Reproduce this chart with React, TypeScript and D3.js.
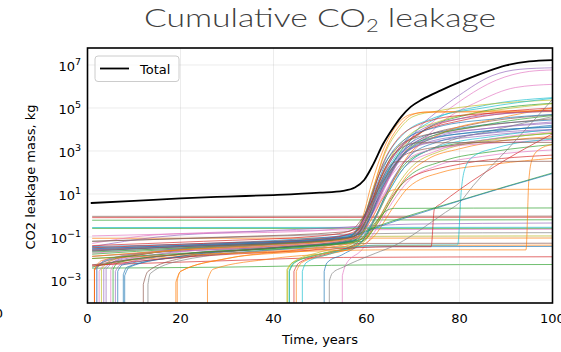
import React from "react";
import * as d3 from "d3";

// ---------- DATA (time in years, value as log10 of kg) ----------
const xTicks = [0, 20, 40, 60, 80, 100];
const yTickExps = [-3, -1, 1, 3, 5, 7];

const totalSeries: number[][] = [
  [0.7, 0.58], [10, 0.68], [20, 0.8], [30, 0.88], [40, 0.95], [50, 1.06], [55, 1.15],
  [57.5, 1.3], [59.5, 1.65], [61.5, 2.4], [63.5, 3.3], [65.5, 4.0], [67.5, 4.6],
  [69.5, 5.05], [72, 5.4], [76, 5.82], [80, 6.2], [85, 6.62], [90, 6.98], [95, 7.17], [100, 7.23],
];

const flatSeries: number[][][] = [
  [[1, -0.04], [100, -0.03]],
  [[1, -0.1], [100, -0.08]],
  [[1, -0.22], [100, -0.2]],
  [[1, -0.56], [100, -0.55]],
  [[1, -0.6], [100, -0.6]],
  [[1, -1.06], [100, -1.05]],
  [[1, -2.3], [30, -2.1], [55, -1.95], [100, -1.92]],
  [[1, -2.45], [30, -2.4], [60, -2.3], [100, -2.28]],
  [[1, -1.9], [20, -1.65], [45, -1.45], [60, -1.3], [100, -1.29]],
  [[1, -1.6], [20, -1.4], [45, -1.15], [60, -0.97], [100, -0.95]],
  [[1, -1.3], [12, -0.95], [25, -0.8], [45, -0.7], [60, -0.66], [100, -0.64]],
  [[1, -1.2], [25, -1.05], [50, -0.9], [70, -0.82], [100, -0.8]],
  [[6.5, -2.6], [7.5, -2.3], [25, -1.85], [50, -1.5], [65, -1.45], [100, -1.44]],
  [[1, -1.45], [15, -1.0], [35, -0.75], [55, -0.55], [70, -0.4], [100, -0.35]],
  [[1.5, -2.55], [3, -2.3], [20, -1.9], [45, -1.6], [60, -1.4], [100, -1.38]],
];
const flatColors = ["brown", "red", "green", "cyan", "green", "orange", "red", "green", "brown", "olive", "pink", "gray", "blue", "purple", "orange"];

const specialSeries: number[][][] = [
  [[46.2, -2.6], [47, -2.2], [52, -1.8], [57, -1.5], [62, -1.38], [79.6, -1.37], [80.4, 1.2], [81.2, 2.2], [83, 2.75], [88, 3.15], [100, 3.55]],
  [[1, -2.35], [20, -1.95], [45, -1.65], [58, -1.5], [66, -1.45], [73.9, -1.45], [74.6, 0.3], [76, 0.55], [80, 1.2], [90, 2.6], [100, 3.8]],
  [[1, -2.0], [25, -1.8], [50, -1.65], [62, -1.6], [94.3, -1.6], [94.9, 1.6], [95.6, 2.6], [97, 3.05], [100, 3.3]],
  [[52, -3.05], [52.6, -2.7], [55, -2.4], [58, -2.1], [62, -1.75], [66, -1.4], [70, -0.9], [74, -0.3], [77, 0.15], [80, 0.6], [83, 1.4], [90, 3.0], [100, 5.4]],
  [[1, -1.7], [30, -1.4], [55, -1.1], [60, -0.7], [63, -0.45], [70, 0.05], [80, 0.7], [90, 1.35], [100, 1.98]],
  [[1, -1.65], [30, -1.35], [55, -1.05], [60, -0.75], [63, -0.5], [70, 0.0], [80, 0.68], [90, 1.33], [100, 1.95]],
  [[1, -1.9], [20, -1.6], [45, -1.35], [58, -1.0], [61, -0.2], [63.5, 0.8], [66, 1.2], [100, 1.22]],
  [[1, -2.0], [25, -1.7], [50, -1.4], [59, -1.1], [62, -0.3], [64.5, 0.25], [66, 0.33], [100, 0.35]],
  [[1, -2.3], [15, -1.9], [40, -1.5], [57, -1.1], [60, -0.1], [62.5, 1.4], [65, 2.6], [68, 3.2], [71, 3.38], [100, 3.4]],
  [[1, -1.65], [20, -1.45], [40, -1.3], [57, -1.0], [60.5, 0], [63, 1.5], [65, 2.3], [66.5, 2.5], [100, 2.52]],
];
const specialColors = ["cyan", "red", "orange", "gray", "green", "blue", "orange", "green", "brown", "brown"];

const risingSeries: number[][][] = [
  [[4, -2.5], [6, -2.1], [15, -1.7], [35, -1.35], [55, -1.0], [59, -0.5], [62, 0.6], [65, 2.0], [68, 3.0], [71, 4.0], [75, 4.8], [80, 5.6], [87, 6.5], [93, 6.8], [100, 6.87]],
  [[2.5, -2.6], [4, -2.2], [12, -1.8], [30, -1.4], [55, -1.05], [59.5, -0.5], [62.5, 0.6], [65.5, 2.0], [69, 3.2], [73.5, 4.2], [80, 5.3], [88, 6.3], [95, 6.7], [100, 6.77]],
  [[1, -1.75], [20, -1.5], [40, -1.3], [57, -1.0], [60.5, -0.2], [63.5, 0.9], [66.5, 2.0], [71, 3.2], [76, 4.3], [84, 5.3], [92, 5.95], [100, 6.1]],
  [[1, -1.5], [20, -1.4], [40, -1.25], [57, -0.9], [60, 0], [62.5, 1.3], [65.5, 2.5], [69, 3.6], [74, 4.4], [85, 5.1], [100, 5.48]],
  [[3, -2.5], [5, -2.1], [15, -1.7], [35, -1.4], [55, -1.1], [59, -0.3], [61.5, 1.3], [64, 2.9], [67, 4.0], [70, 4.6], [75, 4.85], [85, 5.15], [100, 5.37]],
  [[19, -3.1], [20, -2.6], [30, -2.0], [45, -1.6], [56, -1.2], [59, -0.4], [61.5, 1.3], [64, 3.0], [67, 4.15], [70, 4.7], [73, 4.82], [100, 4.88]],
  [[1, -1.8], [20, -1.55], [40, -1.35], [57, -1.0], [60.5, 0], [63.5, 1.5], [67, 2.9], [72, 3.9], [82, 4.7], [100, 5.22]],
  [[12, -3.2], [13, -2.6], [20, -2.0], [35, -1.6], [57, -1.2], [60.5, -0.2], [63.5, 1.2], [67, 2.6], [72, 3.6], [82, 4.2], [100, 4.68]],
  [[1.5, -2.5], [3, -2.2], [12, -1.8], [35, -1.4], [56, -1.05], [60, 0.1], [63, 1.7], [66, 2.8], [70.5, 3.7], [80, 4.4], [100, 4.91]],
  [[8, -2.8], [9, -2.4], [20, -1.9], [40, -1.5], [57, -1.2], [60, -0.2], [62.5, 1.2], [65.5, 2.4], [69, 3.3], [76, 3.9], [100, 4.44]],
  [[1, -1.55], [25, -1.35], [45, -1.15], [58, -0.8], [61.5, 0.5], [64.5, 1.9], [68, 3.0], [74, 3.7], [86, 4.05], [100, 4.29]],
  [[1, -1.45], [25, -1.3], [45, -1.1], [58, -0.85], [61, 0.3], [63.5, 1.6], [67, 2.8], [72, 3.5], [85, 3.9], [100, 4.13]],
  [[6, -2.6], [7, -2.3], [20, -1.8], [40, -1.45], [57, -1.15], [60.5, -0.2], [63.5, 1.3], [67, 2.6], [72, 3.3], [85, 3.7], [100, 3.98]],
  [[43.4, -2.6], [44.5, -2.2], [50, -1.8], [57, -1.4], [61, -0.5], [64, 0.9], [67.5, 2.2], [73, 3.0], [85, 3.5], [100, 3.82]],
  [[44.9, -2.6], [46, -2.2], [52, -1.8], [58, -1.4], [62, -0.5], [65, 0.6], [68.5, 1.8], [73, 2.6], [80, 3.1], [100, 3.67]],
  [[54.8, -2.8], [55.5, -2.3], [59, -1.6], [62.5, -0.5], [65.5, 0.6], [69, 1.6], [75, 2.3], [85, 2.75], [100, 3.05]],
  [[44.4, -2.6], [45.5, -2.2], [52, -1.75], [59, -1.2], [62.5, -0.2], [65.5, 0.9], [69, 1.7], [78, 2.3], [100, 2.81]],
  [[25.8, -3.0], [27, -2.5], [40, -2.0], [56, -1.6], [61.5, -1.0], [65.5, 0.3], [69, 1.3], [76, 2.0], [88, 2.4], [100, 2.66]],
  [[2, -2.4], [4, -2.1], [15, -1.7], [40, -1.35], [56, -1.0], [59.5, 0], [62, 1.5], [64.5, 2.8], [68, 3.8], [74, 4.5], [85, 5.0], [100, 5.45]],
  [[43, -2.55], [44, -2.2], [50, -1.7], [57, -1.3], [60, -0.2], [62.5, 1.4], [65.5, 2.8], [69, 3.7], [76, 4.4], [88, 4.9], [100, 5.2]],
  [[1, -1.5], [25, -1.3], [50, -1.1], [58, -0.7], [61, 0.6], [63.5, 2.0], [66.5, 3.0], [71, 3.8], [80, 4.5], [100, 5.0]],
  [[50.9, -2.6], [51.5, -2.2], [55, -1.8], [59, -1.2], [62.5, 0.2], [65.5, 1.6], [69, 2.7], [75, 3.4], [88, 3.9], [100, 4.2]],
  [[3.5, -2.5], [5, -2.2], [15, -1.8], [40, -1.4], [58, -1.0], [61.5, 0.2], [64.5, 1.6], [68, 2.8], [74, 3.6], [88, 4.1], [100, 4.35]],
  [[1, -1.6], [30, -1.35], [56, -1.05], [60, 0.2], [62.5, 1.8], [65.5, 2.9], [69, 3.5], [80, 4.0], [100, 4.5]],
  [[5, -2.55], [6, -2.2], [18, -1.75], [40, -1.4], [58, -1.05], [61.5, 0], [64.5, 1.2], [68, 2.2], [75, 3.0], [88, 3.6], [100, 3.9]],
  [[13, -3.2], [13.5, -2.7], [20, -2.1], [40, -1.6], [58, -1.2], [61.5, -0.2], [64.5, 1.0], [68, 2.2], [75, 3.2], [88, 4.0], [100, 4.6]],
  [[19.3, -3.0], [20, -2.6], [30, -2.0], [50, -1.55], [59, -1.1], [62.5, 0.1], [65.5, 1.5], [69, 2.8], [75, 3.7], [88, 4.5], [100, 5.0]],
  [[1, -2.4], [5, -2.2], [20, -1.8], [45, -1.45], [58, -1.1], [61, 0.1], [63.5, 1.3], [67, 2.6], [72, 3.5], [85, 4.2], [100, 4.65]],
  [[43.4, -2.55], [44.3, -2.2], [50, -1.8], [58, -1.4], [61.5, -0.3], [64.5, 1.0], [68, 2.2], [74, 3.1], [88, 3.7], [100, 4.0]],
  [[1, -1.4], [25, -1.2], [50, -0.95], [58, -0.6], [61, 0.8], [63.5, 2.4], [66.5, 3.5], [71, 4.2], [80, 4.65], [100, 4.85]],
  [[7.7, -2.75], [8.5, -2.4], [20, -1.9], [40, -1.5], [58, -1.15], [61, 0], [63.5, 1.4], [66.5, 2.5], [71, 3.3], [80, 3.8], [100, 4.1]],
  [[1, -1.6], [25, -1.4], [50, -1.2], [58, -0.9], [61.5, 0.3], [64.5, 1.7], [67.5, 2.7], [73, 3.4], [85, 3.8], [100, 4.0]],
  [[1.5, -2.5], [3, -2.1], [15, -1.7], [40, -1.35], [56, -1.05], [59, -0.2], [61, 1.4], [63.5, 3.0], [66.5, 4.2], [69.5, 4.7], [73, 4.8], [100, 4.83]],
  [[42.9, -2.5], [44, -2.2], [52, -1.7], [59, -1.3], [62.5, -0.2], [65.5, 1.0], [69, 2.1], [76, 3.0], [90, 3.6], [100, 3.85]],
  [[5.5, -2.5], [6.5, -2.2], [20, -1.8], [45, -1.45], [59, -1.2], [62.5, -0.3], [65.5, 0.8], [69, 1.8], [76, 2.5], [88, 3.0], [100, 3.3]],
  [[2, -2.45], [3.5, -2.1], [15, -1.65], [40, -1.3], [57, -1.0], [60.5, 0.2], [63.5, 1.8], [66.5, 3.0], [71, 3.9], [80, 4.5], [100, 4.85]],
  [[1, -1.55], [30, -1.3], [56, -1.0], [59.5, -0.1], [62, 1.3], [64.5, 2.6], [68, 3.5], [75, 4.1], [88, 4.5], [100, 4.7]],
  [[1, -0.95], [20, -0.85], [45, -0.75], [58, -0.5], [61.5, 0.5], [64.5, 1.6], [68, 2.5], [75, 3.1], [90, 3.4], [100, 3.5]],
  [[1, -1.2], [30, -1.0], [56, -0.75], [59.5, 0], [62.5, 1.2], [65.5, 2.2], [69, 2.9], [80, 3.3], [100, 3.6]],
];
const risingColors = [
  "purple", "pink", "pink", "cyan", "olive", "orange", "green", "brown", "red", "blue",
  "purple", "blue", "purple", "green", "orange", "pink", "red", "orange", "cyan", "olive",
  "red", "blue", "purple", "brown", "pink", "gray", "orange", "green", "cyan", "red",
  "blue", "purple", "orange", "olive", "green", "purple", "blue", "pink", "brown",
];

// ---------- STYLE ----------
const palette: Record<string, string> = {
  blue: "#1f77b4", orange: "#ff7f0e", green: "#2ca02c", red: "#d62728", purple: "#9467bd",
  brown: "#8c564b", pink: "#e377c2", gray: "#7f7f7f", olive: "#bcbd22", cyan: "#17becf",
};

const W = 561, H = 352;
const M = { left: 87.5, right: 552.5, top: 48, bottom: 303 };

export default function App() {
  const x = d3.scaleLinear().domain([0, 100]).range([M.left, M.right]);
  const y = d3.scaleLog().domain([Math.pow(10, -4.07), Math.pow(10, 7.79)]).range([M.bottom, M.top]);
  const line = d3.line<number[]>()
    .x((d) => x(d[0]))
    .y((d) => y(Math.pow(10, d[1])))
    .curve(d3.curveMonotoneX);

  const pathFor = (pts: number[][]) => {
    const d = line(pts) || "";
    if (pts[0][0] >= 1.4) {
      return `M${x(pts[0][0])},${M.bottom + 10}L` + d.slice(1);
    }
    return d;
  };

  const all: { pts: number[][]; color: string }[] = [];
  flatSeries.forEach((p, i) => all.push({ pts: p, color: flatColors[i] }));
  risingSeries.forEach((p, i) => all.push({ pts: p, color: risingColors[i] }));
  specialSeries.forEach((p, i) => all.push({ pts: p, color: specialColors[i] }));

  const font = "'DejaVu Sans', sans-serif";

  return (
    <svg width={W} height={H} style={{ position: "absolute", left: 0, top: 0, background: "#fff" }} fontFamily={font}>
      <defs>
        <clipPath id="plotClip">
          <rect x={M.left} y={M.top} width={M.right - M.left} height={M.bottom - M.top} />
        </clipPath>
      </defs>
      <rect x={0} y={0} width={W} height={H} fill="#fff" />
      {/* grid */}
      <g stroke="#b0b0b0" strokeOpacity={0.3} strokeWidth={0.8}>
        {xTicks.map((t) => (
          <line key={"gx" + t} x1={x(t)} x2={x(t)} y1={M.top} y2={M.bottom} />
        ))}
        {yTickExps.map((e) => (
          <line key={"gy" + e} x1={M.left} x2={M.right} y1={y(Math.pow(10, e))} y2={y(Math.pow(10, e))} />
        ))}
      </g>
      {/* series */}
      <g clipPath="url(#plotClip)" fill="none">
        {all.map((s, i) => (
          <path key={i} d={pathFor(s.pts)} stroke={palette[s.color]} strokeWidth={0.8} strokeOpacity={0.85} />
        ))}
        <path d={line(totalSeries) || ""} stroke="#000" strokeWidth={1.8} />
      </g>
      {/* frame */}
      <rect x={M.left} y={M.top} width={M.right - M.left} height={M.bottom - M.top} fill="none" stroke="#000" strokeWidth={1.6} />
      {/* x tick labels */}
      {xTicks.map((t) => (
        <text key={"xt" + t} x={x(t)} y={322.5} fontSize={13} textAnchor="middle" fill="#000">{t}</text>
      ))}
      {/* y tick labels */}
      {yTickExps.map((e) => {
        const yy = y(Math.pow(10, e));
        return (
          <text key={"yt" + e} x={81} y={yy + 6.5} fontSize={13} textAnchor="end" fill="#000">
            10
            <tspan dy={-6.5} fontSize={9.5}>{e < 0 ? "\u2212" + Math.abs(e) : String(e)}</tspan>
          </text>
        );
      })}
      {/* stray cut label at the left edge */}
      <text x={3} y={318} fontSize={13} textAnchor="end" fill="#000">0</text>
      {/* axis labels */}
      <text x={(M.left + M.right) / 2} y={344} fontSize={13} textAnchor="middle" fill="#000">Time, years</text>
      <text transform={`translate(35,177) rotate(-90)`} fontSize={13} textAnchor="middle" fill="#000">CO2 leakage mass, kg</text>
      {/* title */}
      <text x={320} y={27} fontSize={26} fontWeight={300} textAnchor="middle" fill="#404040" fontFamily="Lato, 'DejaVu Sans', sans-serif" textLength={352} lengthAdjust="spacingAndGlyphs">
        Cumulative CO<tspan dy={5} fontSize={17}>2</tspan><tspan dy={-5}> leakage</tspan>
      </text>
      {/* legend */}
      <rect x={95} y={56} width={84} height={25.5} rx={3} fill="#fff" fillOpacity={0.8} stroke="#cccccc" strokeWidth={1} />
      <line x1={100} x2={129} y1={68.5} y2={68.5} stroke="#000" strokeWidth={1.8} />
      <text x={140} y={73.5} fontSize={13} fill="#000">Total</text>
    </svg>
  );
}
